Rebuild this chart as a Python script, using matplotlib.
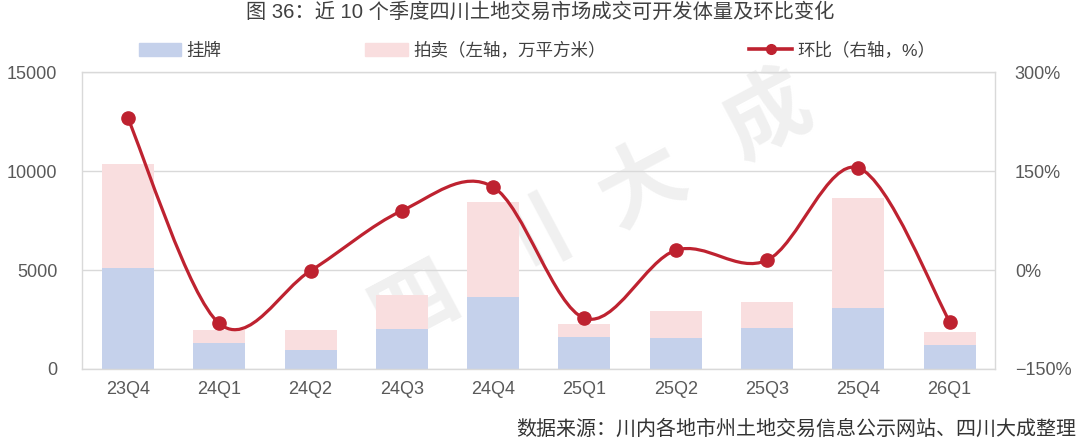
import matplotlib
matplotlib.use('agg')
import matplotlib.pyplot as plt
from matplotlib.patches import Patch, PathPatch
from matplotlib.lines import Line2D
from matplotlib.path import Path

plt.rcParams['font.family'] = ['Liberation Sans', 'Noto Sans CJK SC']

# ---------------- data ----------------
quarters = ['23Q4', '24Q1', '24Q2', '24Q3', '24Q4', '25Q1', '25Q2', '25Q3', '25Q4', '26Q1']
listing = [5090, 1330, 960, 2022, 3640, 1603, 1552, 2073, 3069, 1198]    # 挂牌
auction = [5274, 642, 996, 1719, 4803, 672, 1396, 1315, 5577, 673]      # 拍卖
qoq = [230, -81, -1, 90, 126, -73, 30, 15, 155, -78]                     # 环比 %

left_ticks = [0, 5000, 10000, 15000]
right_ticks = [-150, 0, 150, 300]

c_blue = '#C5D1EB'
c_pink = '#F9DEDF'
c_red = '#BE2230'
c_grid = '#D9D9D9'
c_text = '#595959'

fig = plt.figure(figsize=(10.8, 4.4), dpi=100)
ax = fig.add_axes([0.0762, 0.1614, 0.8454, 0.6743])

x = list(range(len(quarters)))

# watermark, very faint, behind the bars
for ch, (px, py) in zip('四川大成', [(415, 305), (527, 243), (643, 185), (768, 117)]):
    ax.text(px / 1080, 1 - py / 440, ch, transform=fig.transFigure, ha='center', va='center',
            fontsize=62, fontweight='bold', color='#F0F0F0', rotation=28, zorder=0.5,
            family=['Noto Sans CJK SC'])

ax.bar(x, listing, width=0.57, color=c_blue, zorder=2)
ax.bar(x, auction, width=0.57, bottom=listing, color=c_pink, zorder=2)

ax.set_xlim(-0.5, len(quarters) - 0.5)
ax.set_ylim(0, 15000)
ax.set_yticks(left_ticks)
ax.set_xticks(x)
ax.set_xticklabels(quarters)
ax.grid(axis='y', color=c_grid, lw=1, zorder=1)
ax.set_axisbelow(True)
for s in ax.spines.values():
    s.set_color(c_grid)
    s.set_linewidth(1)
ax.tick_params(axis='y', length=0, pad=18, labelsize=13, labelcolor=c_text)
ax.tick_params(axis='x', length=0, pad=9, labelsize=13, labelcolor=c_text)

# right axis: smoothed line (bezier, catmull-rom style control points)
ax2 = ax.twinx()
ax2.set_ylim(-150, 300)
ax2.set_yticks(right_ticks)
ax2.set_yticklabels([f'{v}%'.replace('-', '\u2212') for v in right_ticks])
ax2.tick_params(axis='y', length=0, pad=14, labelsize=13, labelcolor=c_text)
for s in ax2.spines.values():
    s.set_visible(False)

pts = list(zip(x, qoq))
verts = [pts[0]]
codes = [Path.MOVETO]
n = len(pts)
for i in range(n - 1):
    p0 = pts[i - 1] if i > 0 else pts[i]
    p1 = pts[i]
    p2 = pts[i + 1]
    p3 = pts[i + 2] if i + 2 < n else pts[i + 1]
    c1 = (p1[0] + (p2[0] - p0[0]) / 6, p1[1] + (p2[1] - p0[1]) / 6)
    c2 = (p2[0] - (p3[0] - p1[0]) / 6, p2[1] - (p3[1] - p1[1]) / 6)
    verts += [c1, c2, p2]
    codes += [Path.CURVE4] * 3
ax2.add_patch(PathPatch(Path(verts, codes), facecolor='none', edgecolor=c_red, lw=2.3, zorder=3))
ax2.plot(x, qoq, linestyle='none', marker='o', markersize=9.5, color=c_red, zorder=4)

# legend
handles = [Patch(color=c_blue), Patch(color=c_pink),
           Line2D([], [], color=c_red, lw=2.6, marker='o', markersize=7)]
labels = ['挂牌', '拍卖（左轴，万平方米）', '环比（右轴，%）']
fig.legend(handles, labels, loc='center', bbox_to_anchor=(537 / 1080, 1 - 50 / 440), ncol=3,
           frameon=False, fontsize=12.6, handlelength=2.45, handletextpad=0.3,
           columnspacing=8.2, numpoints=1, labelcolor='#404040')

fig.text(0.5, 1 - 12.5 / 440, '图 36：近 10 个季度四川土地交易市场成交可开发体量及环比变化',
         ha='center', va='center', fontsize=14.6, color='#404040')
fig.text(1076 / 1080, 1 - 429 / 440, '数据来源：川内各地市州土地交易信息公示网站、四川大成整理',
         ha='right', va='center', fontsize=14.4, color='#333333')

fig.savefig('out.png', dpi=100)
plt.close('all')
